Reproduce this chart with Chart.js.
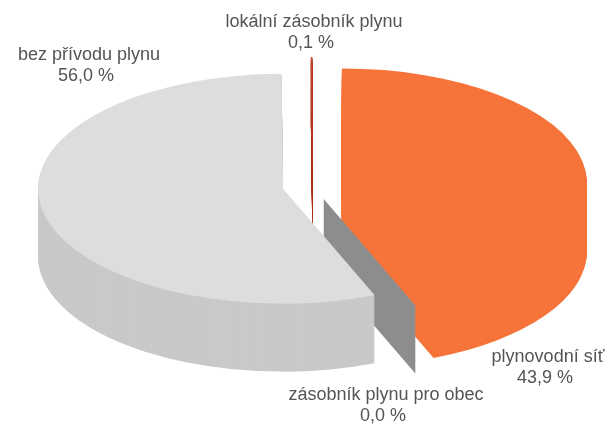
<!DOCTYPE html>
<html>
<head>
<meta charset="utf-8">
<script src="https://cdn.jsdelivr.net/npm/chart.js@4.4.1/dist/chart.umd.min.js"></script>
<style>
  html, body { margin: 0; padding: 0; background: #fff; }
  #wrap { width: 608px; height: 425px; position: relative; }
</style>
</head>
<body>
<div id="wrap"><canvas id="gasChart"></canvas></div>
<script>
// domácnosti podle způsobu zásobování plynem (%)
const categories = ['plynovodní síť', 'zásobník plynu pro obec', 'bez přívodu plynu', 'lokální zásobník plynu'];
const shares = [43.9, 0.0, 56.0, 0.1];
const shareLabels = ['43,9 %', '0,0 %', '56,0 %', '0,1 %'];

const topColors = ['#f6743a', '#8d8d8d', '#dddddf', '#c8442c'];
const sideColors = ['#f6743a', '#8d8d8d', '#c9c9cb', '#a8321e'];
// centre of each caption block
const captionPos = [[548, 357], [386, 395], [89, 55], [314, 22]];

// squashes the pie into a tilted disc and extrudes it
const pie3d = {
  id: 'pie3d',
  beforeDatasetsDraw(chart, args, opts) {
    const ctx = chart.ctx;
    const arcs = chart.getDatasetMeta(0).data;
    const { tilt, depth, explode, order } = opts;

    const place = (arc, dy) => {
      const mid = (arc.startAngle + arc.endAngle) / 2;
      ctx.translate(arc.x, arc.y + dy);
      ctx.scale(1, tilt);
      ctx.translate(Math.cos(mid) * explode, Math.sin(mid) * explode);
    };

    order.forEach(i => {
      const arc = arcs[i];
      if (arc.circumference === 0) {
        // an empty slice is just a thin wall along its radius
        const a = arc.startAngle;
        const r0 = explode, r1 = explode + arc.outerRadius;
        const px = r => arc.x + Math.cos(a) * r;
        const py = r => arc.y + Math.sin(a) * r * tilt;
        ctx.save();
        ctx.fillStyle = sideColors[i];
        ctx.beginPath();
        ctx.moveTo(px(r0), py(r0));
        ctx.lineTo(px(r1), py(r1));
        ctx.lineTo(px(r1), py(r1) + depth);
        ctx.lineTo(px(r0), py(r0) + depth);
        ctx.closePath();
        ctx.fill();
        ctx.restore();
        return;
      }
      for (let d = depth; d > 0; d--) {
        ctx.save();
        place(arc, d);
        ctx.beginPath();
        ctx.moveTo(0, 0);
        ctx.arc(0, 0, arc.outerRadius, arc.startAngle, arc.endAngle);
        ctx.closePath();
        ctx.fillStyle = sideColors[i];
        ctx.fill();
        ctx.restore();
      }
      ctx.save();
      place(arc, 0);
      ctx.translate(-arc.x, -arc.y);
      arc.draw(ctx);
      ctx.restore();
    });
    return false;
  },
  afterDraw(chart) {
    const ctx = chart.ctx;
    ctx.save();
    ctx.font = '18px "Liberation Sans", Arial, sans-serif';
    ctx.fillStyle = '#545454';
    ctx.textAlign = 'center';
    ctx.textBaseline = 'middle';
    categories.forEach((c, i) => {
      const [x, y] = captionPos[i];
      ctx.fillText(c, x, y);
      ctx.fillText(shareLabels[i], x - 3, y + 21);
    });
    ctx.restore();
  }
};

new Chart(document.getElementById('gasChart'), {
  type: 'pie',
  data: {
    labels: categories,
    datasets: [{
      data: shares,
      backgroundColor: topColors,
      borderWidth: 0,
      radius: 245
    }]
  },
  options: {
    responsive: true,
    maintainAspectRatio: false,
    animation: false,
    events: [],
    layout: { padding: { left: 17, bottom: 53 } },
    plugins: {
      legend: { display: false },
      tooltip: { enabled: false },
      pie3d: { tilt: 0.469, depth: 68, explode: 30, order: [3, 0, 1, 2] }
    }
  },
  plugins: [pie3d]
});
</script>
</body>
</html>
